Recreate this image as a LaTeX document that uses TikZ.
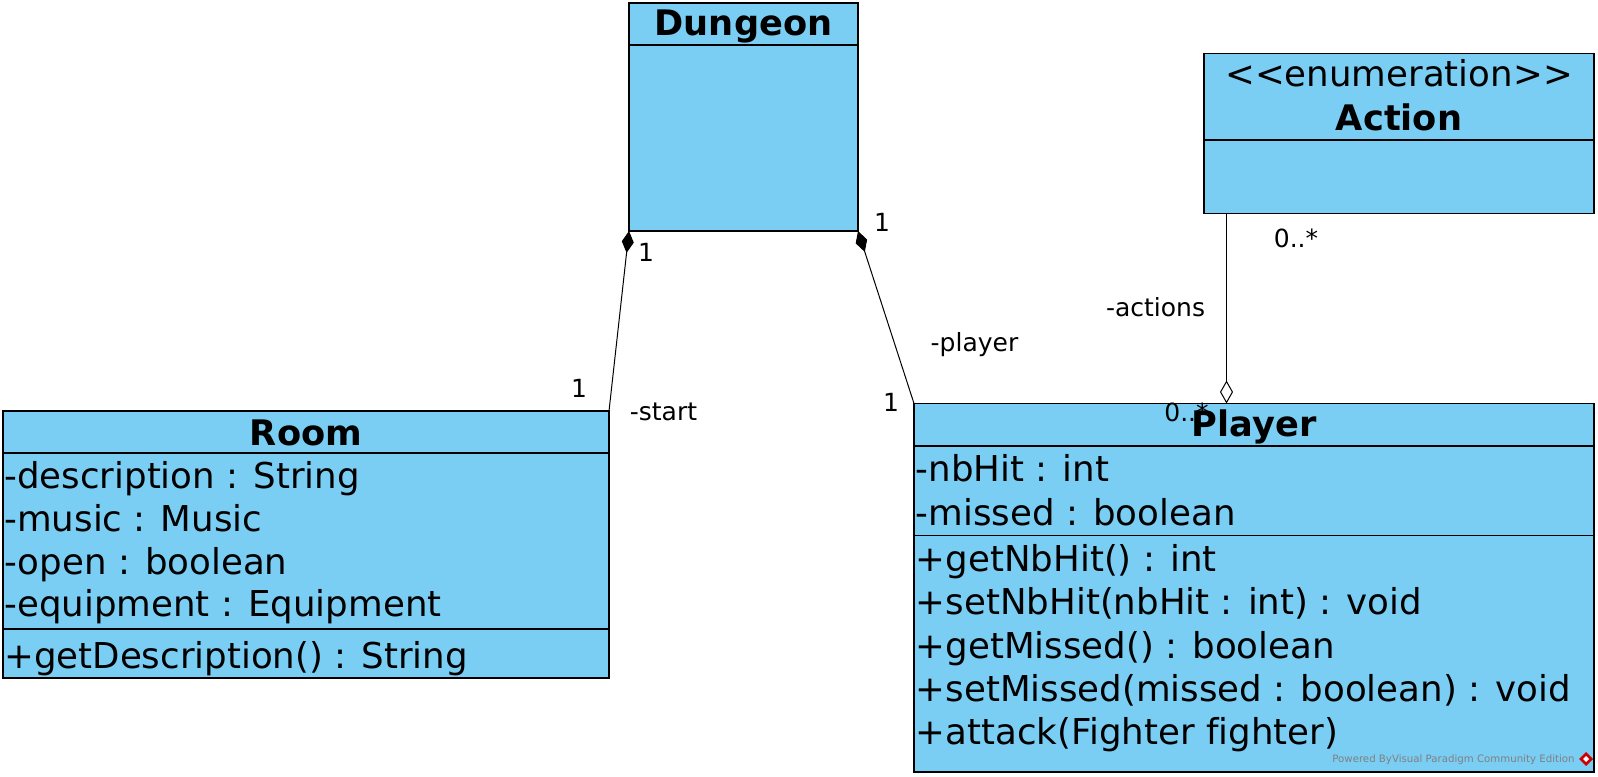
\documentclass[tikz,border=0pt]{standalone}
\usepackage{fontspec}
\setmainfont{DejaVu Sans}[Ligatures={NoCommon}]
\usepackage{tikz}
\usetikzlibrary{arrows.meta}
\definecolor{umlblue}{RGB}{122,206,244}

\begin{document}
\begin{tikzpicture}[x=0.5pt,y=-0.5pt,
	umlclass/.style={draw, fill=umlblue, line width=0.6pt, anchor=north west, inner sep=0, outer sep=0},
	classname/.style={anchor=base, inner sep=0, font=\bfseries\fontsize{17.6}{21}\selectfont},
	stereo/.style={anchor=base, inner sep=0, font=\fontsize{17.8}{21}\selectfont},
	member/.style={anchor=base west, inner sep=0, font=\fontsize{17.8}{21}\selectfont},
	role/.style={anchor=base, inner sep=0, font=\fontsize{12.5}{15}\selectfont},
	composition/.style={line width=0.5pt, -{Diamond[length=11pt,width=6pt]}},
	aggregation/.style={line width=0.5pt, -{Diamond[open,length=11.5pt,width=6.5pt]}}]
	\useasboundingbox (0,0) rectangle (1598,776);

	\node[umlclass, minimum width=114.5pt, minimum height=114pt] (dungeon) at (629,3) {};
	\node[umlclass, minimum width=195pt, minimum height=80pt] (action) at (1204,53.5) {};
	\node[umlclass, minimum width=303pt, minimum height=133.5pt] (room) at (3,411) {};
	\node[umlclass, minimum width=340pt, minimum height=184.25pt] (player) at (914,403.5) {};

	\draw[line width=0.6pt] (629,45) -- (858,45);
	\draw[line width=0.6pt] (1204,140) -- (1594,140);
	\draw[line width=0.6pt] (3,453) -- (609,453) (3,629) -- (609,629);
	\draw[line width=0.6pt] (914,446) -- (1594,446) (914,535.5) -- (1594,535.5);

	\node[classname] (dungeonname) at (743.5,35) {Dungeon};

	\node[stereo] (actionstereo) at (1399,86) {{<}{<}enumeration{>}{>}};
	\node[classname] (actionname) at (1399,130) {Action};

	\node[classname] (roomname) at (306,445) {Room};
	\node[member] (roomdesc) at (4,488.3) {-description : String};
	\node[member] (roommusic) at (4,531.3) {-music : Music};
	\node[member] (roomopen) at (4,574) {-open : boolean};
	\node[member] (roomequip) at (4,616.7) {-equipment : Equipment};
	\node[member] (roomgetdesc) at (4,668.3) {+getDescription() : String};

	\node[member] (playernbhit) at (915.5,481.7) {-nbHit : int};
	\node[member] (playermissed) at (915.5,525) {-missed : boolean};
	\node[member] (playergetnb) at (915.5,571.7) {+getNbHit() : int};
	\node[member] (playersetnb) at (915.5,614) {+setNbHit(nbHit : int) : void};
	\node[member] (playergetmiss) at (915.5,658.3) {+getMissed() : boolean};
	\node[member] (playersetmiss) at (915.5,701.7) {+setMissed(missed : boolean) : void};
	\node[member] (playerattack) at (915.5,744.3) {+attack(Fighter fighter)};

	\draw[composition] (room.north east) -- (dungeon.south west);
	\draw[composition] (player.north west) -- (dungeon.south east);
	\draw[aggregation] ([xshift=11.25pt]action.south west) -- ([xshift=11.25pt]action.south west |- player.north);

	\node[role] (startdmult) at (646,261.7) {1};
	\node[role] (startrmult) at (579,397) {1};
	\node[role] (startrole) at (663.5,420) {-start};
	\node[role] (playerdmult) at (882,231.7) {1};
	\node[role] (playerpmult) at (891,411.7) {1};
	\node[role] (playerrole) at (974.5,351.7) {-player};
	\node[role] (actionsamult) at (1296,247.3) {0..*};
	\node[role] (actionsrole) at (1155.5,316.7) {-actions};
	\node[role] (actionspmult) at (1186.5,421.7) {0..*};

	\node[classname] (playername) at (1254,436.7) {Player};

	\node[anchor=base east, inner sep=0, text=gray, font=\fontsize{5.1}{6}\selectfont] (poweredby) at (1575,762) {Powered ByVisual Paradigm Community Edition};
	\fill[red!80!black] (1586,752) -- (1593,759) -- (1586,766) -- (1579,759) -- cycle;
	\fill[white] (1586,756) -- (1589,759) -- (1586,762) -- (1583,759) -- cycle;
\end{tikzpicture}
\end{document}
